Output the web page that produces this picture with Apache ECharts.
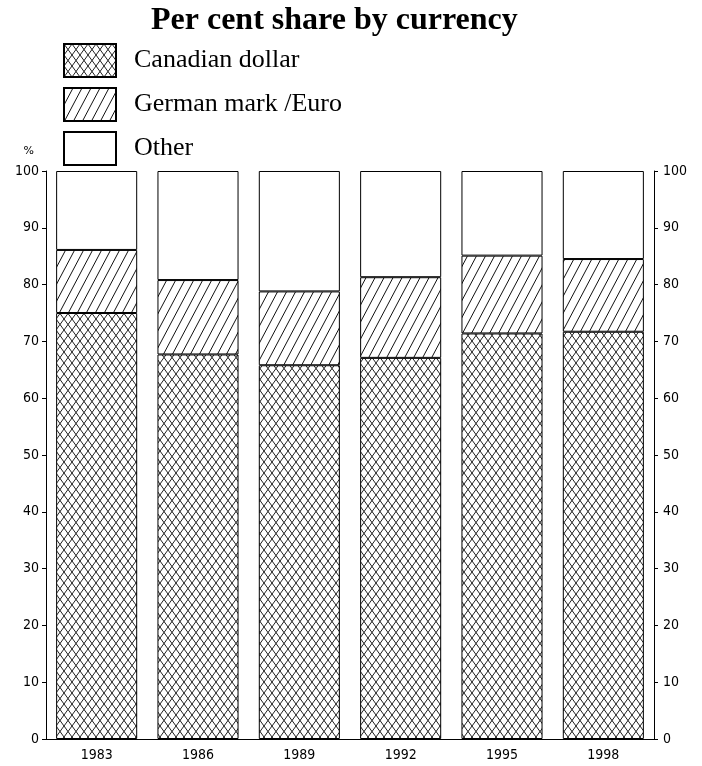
<!DOCTYPE html>
<html><head><meta charset="utf-8">
<script src="https://cdn.jsdelivr.net/npm/echarts@6/dist/echarts.min.js"></script>
<style>html,body{margin:0;padding:0;background:#fff}#c{width:702px;height:766px}</style>
</head><body><div id="c"></div>
<script>
const years = ['1983','1986','1989','1992','1995','1998'];
const canadian = [75.0, 67.7, 65.8, 67.1, 71.4, 71.7];
const german = [11.1, 13.1, 13.0, 14.2, 13.7, 12.8];
const other = [13.9, 19.2, 21.2, 18.7, 14.9, 15.5];
const seriesNames = ['Canadian dollar', 'German mark /Euro', 'Other'];

function hatchPattern(w, h, cross) {
  const c = document.createElement('canvas');
  c.width = w; c.height = h;
  const g = c.getContext('2d');
  g.fillStyle = '#fff'; g.fillRect(0, 0, w, h);
  g.strokeStyle = cross ? '#222' : '#111';
  g.lineWidth = 1;
  g.beginPath();
  for (let k = -1; k <= 1; k++) {
    g.moveTo(k * w, h); g.lineTo(k * w + w, 0);
    if (cross) { g.moveTo(k * w, 0); g.lineTo(k * w + w, h); }
  }
  g.stroke();
  return { image: c, repeat: 'repeat' };
}
const crossFill = hatchPattern(8, 11, true);
const slashFill = hatchPattern(9, 17, false);

const fills = [crossFill, slashFill, '#ffffff'];
const values = [canadian, german, other];
const axisFont = { fontFamily: 'Liberation Sans Narrow, DejaVu Sans Condensed, sans-serif', fontSize: 14, color: '#000' };

const chart = echarts.init(document.getElementById('c'), null, { renderer: 'canvas' });
chart.setOption({
  animation: false,
  backgroundColor: '#fff',
  title: {
    text: 'Per cent share by currency', left: 151, top: 5, padding: 0,
    textStyle: { fontFamily: 'Liberation Serif', fontWeight: 'bold', fontSize: 32, color: '#000' }
  },
  legend: {
    orient: 'vertical', left: 63, top: 43, padding: 0, itemWidth: 52, itemHeight: 33, itemGap: 9,
    icon: 'rect',
    data: seriesNames,
    textStyle: { fontFamily: 'Liberation Serif', fontSize: 26, color: '#000', padding: [0, 0, 0, 13] }
  },
  grid: { left: 46, right: 48, top: 171, bottom: 27 },
  xAxis: {
    type: 'category', data: years,
    axisLine: { lineStyle: { color: '#000', width: 1 } },
    axisTick: { show: false },
    axisLabel: Object.assign({ margin: 9 }, axisFont)
  },
  yAxis: [
    {
      type: 'value', min: 0, max: 100, interval: 10, name: '%',
      nameLocation: 'end', nameGap: 14,
      nameTextStyle: { fontFamily: 'DejaVu Sans', fontSize: 11, color: '#000', align: 'right', padding: [0, 12, 0, 0] },
      axisLine: { show: true, lineStyle: { color: '#000' } },
      axisTick: { show: true, length: 4, lineStyle: { color: '#000' } },
      splitLine: { show: false },
      axisLabel: Object.assign({ margin: 7 }, axisFont)
    },
    {
      type: 'value', min: 0, max: 100, interval: 10, position: 'right',
      axisLine: { show: true, lineStyle: { color: '#000' } },
      axisTick: { show: true, length: 4, lineStyle: { color: '#000' } },
      splitLine: { show: false },
      axisLabel: Object.assign({ margin: 9 }, axisFont)
    }
  ],
  series: seriesNames.map((n, i) => ({
    name: n, type: 'bar', stack: 'share', barWidth: '80%',
    data: values[i],
    itemStyle: { color: fills[i], borderColor: '#000', borderWidth: 1 }
  }))
});
</script></body></html>
